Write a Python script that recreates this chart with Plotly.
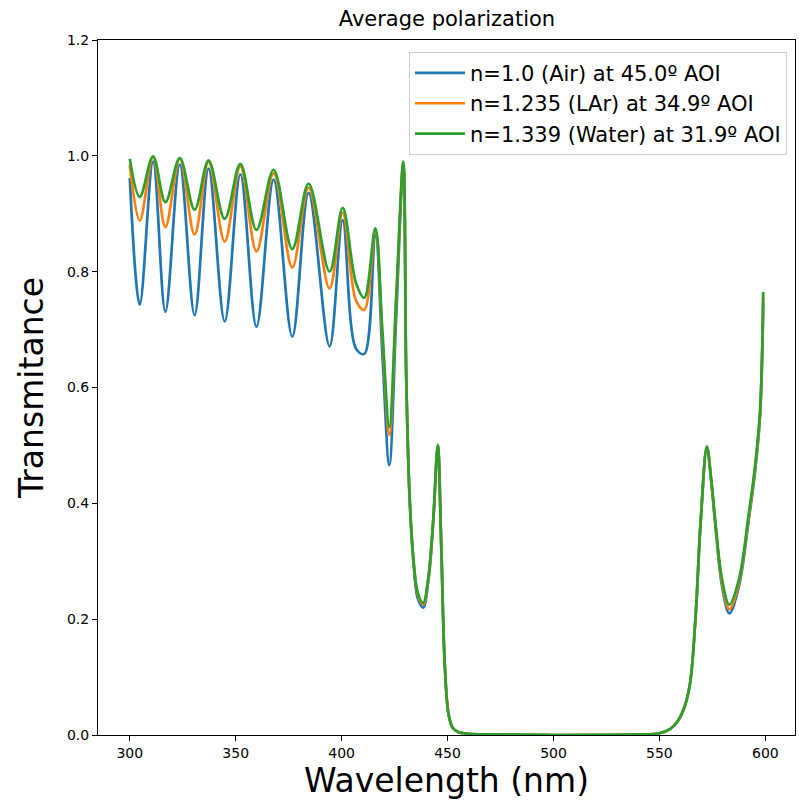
import plotly.graph_objects as go

# Wavelength samples (nm)
wavelength = [300.0, 304.7, 311.0, 316.8, 323.6, 330.6, 337.2, 344.8, 352.2, 359.8,
              367.9, 376.7, 384.4, 394.3, 400.5, 406.8, 410.7, 415.9, 419.2, 422.5,
              425.8, 429.1, 430.5, 432.0, 434.0, 436.0, 438.5, 441.0, 443.2, 445.4,
              447.0, 448.7, 450.5, 452.5, 455.0, 460.0, 470.0, 500.0, 540.0, 550.0,
              555.0, 559.0, 562.0, 564.5, 567.0, 569.5, 572.4, 574.5, 576.5, 579.6,
              583.0, 587.5, 592.2, 595.0, 597.5, 599.0]

t_air = [0.962, 0.743, 0.990, 0.731, 0.985, 0.725, 0.978, 0.714, 0.968, 0.705,
         0.959, 0.688, 0.936, 0.671, 0.889, 0.667, 0.658, 0.869, 0.660, 0.466,
         0.725, 0.985, 0.615, 0.415, 0.293, 0.235, 0.220, 0.268, 0.365, 0.499,
         0.330, 0.120, 0.035, 0.012, 0.005, 0.002, 0.001, 0.000, 0.001, 0.003,
         0.010, 0.026, 0.050, 0.090, 0.200, 0.370, 0.497, 0.435, 0.358, 0.256,
         0.210, 0.256, 0.372, 0.450, 0.550, 0.745]

t_lar = [0.985, 0.888, 0.998, 0.877, 0.995, 0.864, 0.990, 0.852, 0.982, 0.835,
         0.970, 0.807, 0.945, 0.771, 0.902, 0.750, 0.734, 0.872, 0.690, 0.518,
         0.752, 0.988, 0.618, 0.418, 0.298, 0.242, 0.225, 0.272, 0.368, 0.500,
         0.330, 0.120, 0.035, 0.012, 0.005, 0.002, 0.001, 0.000, 0.001, 0.003,
         0.010, 0.026, 0.050, 0.090, 0.200, 0.370, 0.498, 0.438, 0.362, 0.262,
         0.217, 0.262, 0.378, 0.455, 0.555, 0.755]

t_water = [0.995, 0.929, 0.999, 0.920, 0.996, 0.907, 0.992, 0.891, 0.986, 0.872,
           0.976, 0.839, 0.952, 0.800, 0.910, 0.780, 0.755, 0.875, 0.700, 0.532,
           0.760, 0.990, 0.620, 0.420, 0.300, 0.245, 0.228, 0.275, 0.370, 0.501,
           0.330, 0.120, 0.035, 0.012, 0.005, 0.002, 0.001, 0.000, 0.001, 0.003,
           0.010, 0.026, 0.050, 0.090, 0.200, 0.370, 0.498, 0.440, 0.365, 0.268,
           0.225, 0.268, 0.383, 0.460, 0.560, 0.765]

series_names = ["n=1.0 (Air) at 45.0º AOI",
                "n=1.235 (LAr) at 34.9º AOI",
                "n=1.339 (Water) at 31.9º AOI"]
series_values = [t_air, t_lar, t_water]
series_colors = ["#1f77b4", "#ff7f0e", "#2ca02c"]

x_ticks = [300, 350, 400, 450, 500, 550, 600]
y_ticks = [0.0, 0.2, 0.4, 0.6, 0.8, 1.0, 1.2]

FONT = "DejaVu Sans"

fig = go.Figure()
for name, vals, col in zip(series_names, series_values, series_colors):
    fig.add_trace(go.Scatter(
        x=wavelength, y=vals, mode="lines", name=name,
        line=dict(color=col, width=2.7, shape="spline", smoothing=1.0),
    ))

axis_common = dict(
    showgrid=False, zeroline=False, showline=True, linecolor="black", linewidth=1,
    mirror=True, ticks="outside", ticklen=5, tickwidth=1, tickcolor="black",
    tickfont=dict(family=FONT, size=14, color="black"),
)

fig.update_layout(
    width=799, height=805,
    margin=dict(l=98, r=4, t=40, b=70),
    paper_bgcolor="white", plot_bgcolor="white",
    font=dict(family=FONT, color="black"),
    title=dict(text="Average polarization", x=0.5594, xanchor="center",
               y=1 - 19 / 805, yanchor="middle", yref="container",
               font=dict(family=FONT, size=21, color="black")),
    xaxis=dict(range=[285.0, 614.0], tickvals=x_ticks,
               title=dict(text="Wavelength (nm)", standoff=0,
                          font=dict(family=FONT, size=33, color="black")),
               **axis_common),
    yaxis=dict(range=[0, 1.2], tickvals=y_ticks, tickformat=".1f",
               title=dict(text="Transmitance", standoff=13,
                          font=dict(family=FONT, size=33, color="black")),
               **axis_common),
    legend=dict(x=0.9885, y=0.983, xanchor="right", yanchor="top",
                bgcolor="rgba(255,255,255,0.8)", bordercolor="#cccccc", borderwidth=1,
                font=dict(family=FONT, size=21, color="black"),
                itemwidth=50, tracegroupgap=0),
    showlegend=True,
)

fig.write_html("out.html", config={"displayModeBar": False},
               post_script="document.body.style.margin='0px';")
